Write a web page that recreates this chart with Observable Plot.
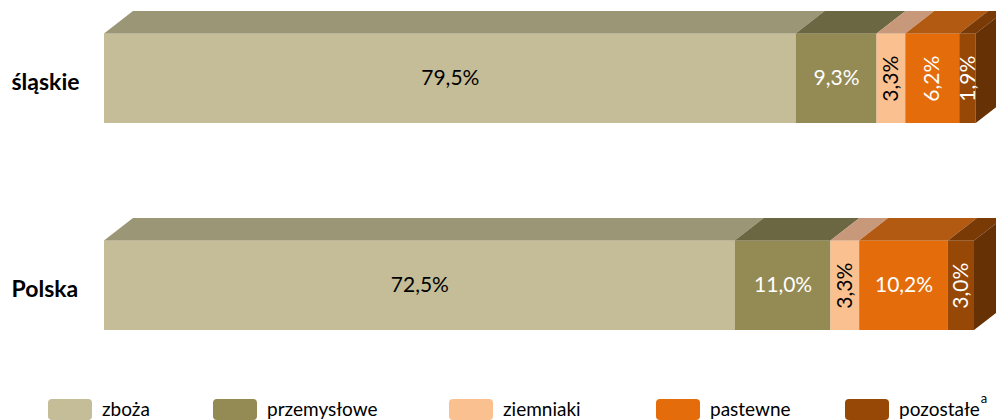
<!DOCTYPE html>
<html>
<head>
<meta charset="utf-8">
<script src="https://cdn.jsdelivr.net/npm/d3@7"></script>
<script src="https://cdn.jsdelivr.net/npm/@observablehq/plot@0.6"></script>
<style>
  html, body { margin: 0; padding: 0; background: #fff; overflow: hidden; width: 996px; height: 420px; }
  #legend { position: relative; width: 996px; height: 35px; font-family: Lato, "Open Sans", sans-serif; font-size: 19px; color: #000; }
  .sw { position: absolute; top: 14px; width: 44px; height: 21px; border-radius: 4px; }
  .lt { position: absolute; top: 13px; height: 22px; line-height: 22px; white-space: nowrap; }
  .lt sup { font-size: 13px; vertical-align: baseline; line-height: 0; position: relative; top: -13px; margin-left: 1px; }
</style>
</head>
<body>
<div id="chart"></div>
<div id="legend"></div>
<script>
// ---- data ----
const rows = ["śląskie", "Polska"];
const categories = ["zboża", "przemysłowe", "ziemniaki", "pastewne", "pozostałe"];
const slaskieValues = [79.5, 9.3, 3.3, 6.2, 1.9];
const polskaValues = [72.5, 11.0, 3.3, 10.2, 3.0];
const legendNotes = ["", "", "", "", "a"];

// ---- styles ----
const frontColors = ["#C4BD97", "#948A54", "#FAC090", "#E46C0A", "#974806"];
const topColors   = ["#9A9676", "#6C6743", "#C8987A", "#B25A12", "#7A3A06"];
const sideColor = "#663104";
const labelColors = ["#000000", "#ffffff", "#000000", "#ffffff", "#ffffff"];
const legendLeft = [48, 213, 449, 656, 845];
const DX = 3.33;  // depth in x units (percent)
const DY = 0.25;  // depth in y units (front face = 1)

const fmt = v => v.toFixed(1).replace(".", ",") + "%";

// ---- derived tables ----
const valuesByRow = [slaskieValues, polskaValues];
const segs = [];
rows.forEach((row, r) => {
  const vals = valuesByRow[r];
  const ends = d3.cumsum(vals);
  vals.forEach((v, i) => {
    segs.push({
      row, cat: categories[i], i, value: v,
      x1: ends[i] - v, x2: ends[i],
      front: frontColors[i], top: topColors[i],
      label: fmt(v), labelColor: labelColors[i],
      rotated: v < 8
    });
  });
});
const topPts = segs.flatMap(s => [
  {row: s.row, key: s.row + s.cat, y: 1, x1: s.x1, x2: s.x2, color: s.top},
  {row: s.row, key: s.row + s.cat, y: 1 + DY, x1: s.x1 + DX, x2: s.x2 + DX, color: s.top}
]);
const lastSegs = rows.map(row => segs.filter(s => s.row === row).at(-1));
const sidePts = lastSegs.flatMap(s => [
  {row: s.row, x: s.x2, y1: 0, y2: 1},
  {row: s.row, x: s.x2 + DX, y1: DY, y2: 1 + DY}
]);

const W = 996, H = 385;
const plot = Plot.plot({
  width: W,
  height: H,
  marginLeft: 104,
  marginRight: 22,
  marginTop: 11,
  marginBottom: 55,
  style: {fontFamily: "Lato, 'Open Sans', sans-serif", background: "#fff", overflow: "hidden"},
  x: {domain: [0, 100], axis: null},
  y: {domain: [0, 1 + DY], axis: null},
  fy: {domain: rows, paddingInner: 0.459, paddingOuter: 0, round: false, axis: null, label: null},
  color: {type: "identity"},
  marks: [
    Plot.rect(segs, {x1: "x1", x2: "x2", y1: () => 0, y2: () => 1, fy: "row", fill: "front"}),
    Plot.areaX(topPts, {x1: "x1", x2: "x2", y: "y", z: "key", fy: "row", fill: "color", curve: "linear"}),
    Plot.areaY(sidePts, {x: "x", y1: "y1", y2: "y2", z: "row", fy: "row", fill: sideColor, curve: "linear"}),
    Plot.text(segs.filter(s => !s.rotated), {
      x: s => (s.x1 + s.x2) / 2, y: () => 0.5, fy: "row", text: "label",
      fill: "labelColor", fontSize: 21
    }),
    Plot.text(segs.filter(s => s.rotated), {
      x: s => (s.x1 + s.x2) / 2, y: () => 0.5, fy: "row", text: "label",
      fill: "labelColor", fontSize: 21, rotate: -90
    }),
    Plot.text(rows, {
      fy: d => d, y: () => 0.5, text: d => d, frameAnchor: "left", textAnchor: "start",
      dx: -93, dy: 4, fontWeight: "bold", fontSize: 23, fill: "#000"
    })
  ]
});
document.getElementById("chart").appendChild(plot);

// ---- legend ----
const legend = document.getElementById("legend");
categories.forEach((c, i) => {
  const sw = document.createElement("div");
  sw.className = "sw";
  sw.style.left = legendLeft[i] + "px";
  sw.style.background = frontColors[i];
  legend.appendChild(sw);
  const t = document.createElement("div");
  t.className = "lt";
  t.style.left = (legendLeft[i] + 54) + "px";
  t.textContent = c;
  if (legendNotes[i]) {
    const s = document.createElement("sup");
    s.textContent = legendNotes[i];
    t.appendChild(s);
  }
  legend.appendChild(t);
});
</script>
</body>
</html>
